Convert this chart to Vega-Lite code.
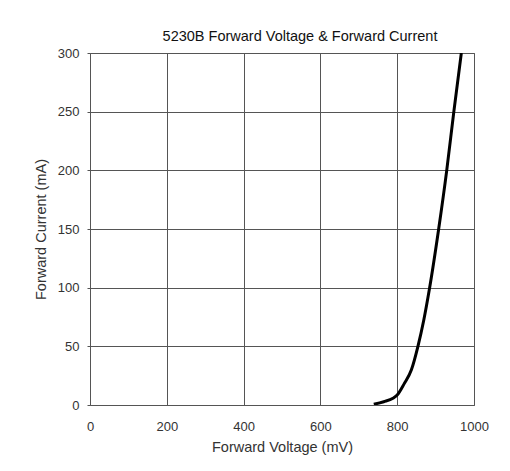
{
  "$schema": "https://vega.github.io/schema/vega-lite/v6.json",
  "width": 384,
  "height": 352,
  "autosize": {"type": "none"},
  "padding": {"left": 90, "top": 53, "right": 36, "bottom": 66},
  "background": "white",
  "title": {
    "text": "5230B Forward Voltage & Forward Current",
    "font": "Liberation Sans",
    "fontSize": 14.5,
    "fontWeight": "normal",
    "color": "#111",
    "offset": 3,
    "dx": 18
  },
  "data": {
    "values": [
      {"mV": 739, "mA": 0.6},
      {"mV": 765, "mA": 2.8},
      {"mV": 789, "mA": 5.7},
      {"mV": 800, "mA": 8.5},
      {"mV": 818, "mA": 18},
      {"mV": 837, "mA": 30},
      {"mV": 854, "mA": 50},
      {"mV": 869, "mA": 72},
      {"mV": 884, "mA": 99},
      {"mV": 908, "mA": 150},
      {"mV": 929, "mA": 200},
      {"mV": 947.5, "mA": 250},
      {"mV": 967, "mA": 300}
    ]
  },
  "mark": {"type": "line", "color": "black", "strokeWidth": 3, "interpolate": "monotone", "clip": true},
  "encoding": {
    "x": {
      "field": "mV",
      "type": "quantitative",
      "scale": {"domain": [0, 1000], "nice": false, "zero": false},
      "axis": {
        "title": "Forward Voltage (mV)",
        "values": [0, 200, 400, 600, 800, 1000],
        "format": "d",
        "ticks": false,
        "labelPadding": 15,
        "titlePadding": 7,
        "labelFlush": false
      }
    },
    "y": {
      "field": "mA",
      "type": "quantitative",
      "scale": {"domain": [0, 300], "nice": false},
      "axis": {
        "title": "Forward Current (mA)",
        "values": [0, 50, 100, 150, 200, 250, 300],
        "format": "d",
        "tickSize": 3,
        "labelPadding": 8,
        "titlePadding": 9,
        "labelFlush": false
      }
    }
  },
  "config": {
    "view": {"stroke": "#666", "strokeWidth": 1},
    "axis": {
      "labelFont": "Liberation Sans",
      "titleFont": "Liberation Sans",
      "labelFontSize": 13,
      "titleFontSize": 14.5,
      "titleFontWeight": "normal",
      "labelColor": "#333",
      "titleColor": "#333",
      "gridColor": "#555",
      "gridOpacity": 1,
      "gridWidth": 1,
      "domain": false,
      "tickColor": "#555"
    }
  }
}
